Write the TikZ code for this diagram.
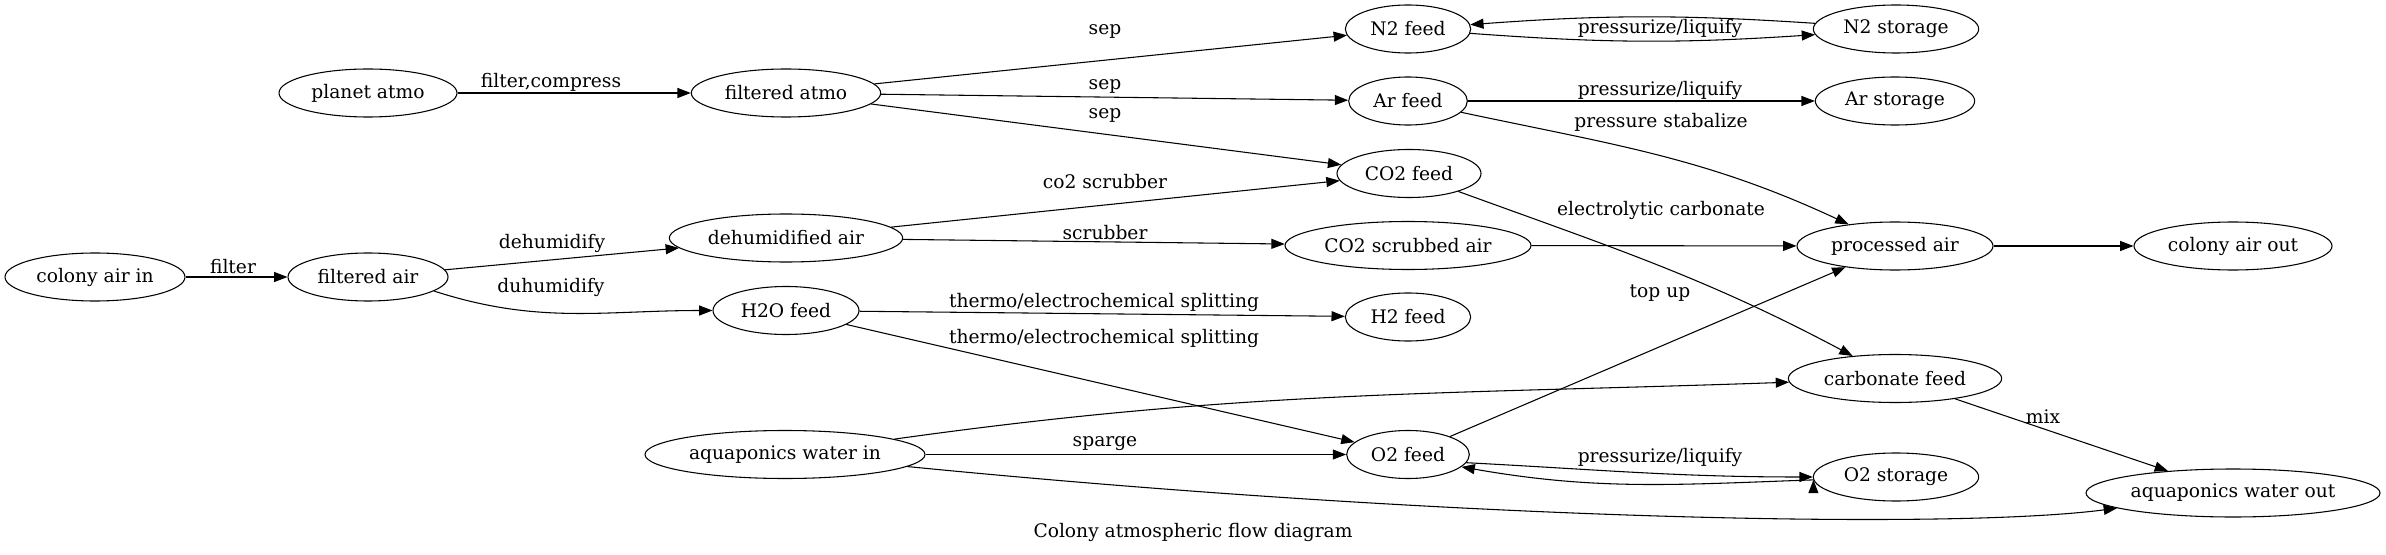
\documentclass[tikz,border=0pt]{standalone}
\usepackage{fontspec}
\setmainfont{DejaVu Serif}
\usetikzlibrary{
    arrows.meta,
    shapes.geometric
}

\begin{document}
\begin{tikzpicture}[x=0.75pt, y=0.75pt,
    font=\fontsize{14pt}{17pt}\selectfont,
    proc/.style={ellipse, draw, line width=0.8pt, inner sep=0pt, minimum height=36pt, minimum width=#1},
    flow/.style={-{Triangle[length=10pt, width=7.5pt]}, line width=0.8pt}]
    \useasboundingbox (0, 0) rectangle (2386, 554);
    \node[proc=135pt] (cin) at (95, 277) {colony air in};
    \node[proc=120pt] (fair) at (368, 277) {filtered air};
    \node[proc=133.5pt] (patmo) at (368, 461) {planet atmo};
    \node[proc=142pt] (fatmo) at (786, 461) {filtered atmo};
    \node[proc=175pt] (dair) at (786, 316) {dehumidified air};
    \node[proc=109.5pt] (h2o) at (786, 243.5) {H2O feed};
    \node[proc=210pt] (aqin) at (785, 99.5) {aquaponics water in};
    \node[proc=94pt] (n2) at (1408, 525) {N2 feed};
    \node[proc=89pt] (ar) at (1408, 453) {Ar feed};
    \node[proc=108pt] (co2) at (1409, 380.5) {CO2 feed};
    \node[proc=184.5pt] (co2s) at (1408, 308.5) {CO2 scrubbed air};
    \node[proc=94pt] (h2) at (1408, 237) {H2 feed};
    \node[proc=92pt] (o2) at (1408, 99.5) {O2 feed};
    \node[proc=124pt] (n2s) at (1896, 525) {N2 storage};
    \node[proc=119.5pt] (ars) at (1895, 453) {Ar storage};
    \node[proc=147pt] (pair) at (1895, 308) {processed air};
    \node[proc=160pt] (carb) at (1895, 175.5) {carbonate feed};
    \node[proc=124pt] (o2s) at (1896, 77) {O2 storage};
    \node[proc=148.5pt] (cout) at (2233, 308) {colony air out};
    \node[proc=220.5pt] (aqout) at (2233, 61) {aquaponics water out};
    \node (lfilter) at (233, 287) {filter};
    \node (lcompress) at (551, 472) {filter,compress};
    \node (ldehum) at (552, 311) {dehumidify};
    \node (lduhum) at (551, 267) {duhumidify};
    \node (lsepn) at (1105, 523) {sep};
    \node (lsepa) at (1105, 468) {sep};
    \node (lsepc) at (1105, 439) {sep};
    \node (lco2scr) at (1105, 372) {co2 scrubber};
    \node (lscr) at (1105, 321) {scrubber};
    \node (lsplith) at (1104, 252) {thermo/electrochemical splitting};
    \node (lsplito) at (1104, 216) {thermo/electrochemical splitting};
    \node (lsparge) at (1105, 110) {sparge};
    \node (lpressn) at (1660, 526) {pressurize/liquify};
    \node (lpressa) at (1660, 464) {pressurize/liquify};
    \node (lstab) at (1661, 432) {pressure stabalize};
    \node (lcarb) at (1661, 344) {electrolytic carbonate};
    \node (ltopup) at (1660, 261) {top up};
    \node (lpresso) at (1660, 97) {pressurize/liquify};
    \node (lmix) at (2043, 137) {mix};
    \node (title) at (1193, 22) {Colony atmospheric flow diagram};
    \draw[flow]
    (cin) edge (fair)
    (patmo) edge (fatmo)
    (fair) edge (dair)
    (fair.-12) edge[out=-18, in=180] (h2o)
    (fatmo) edge (n2)
    (fatmo) edge (ar)
    (fatmo) edge (co2)
    (dair) edge (co2)
    (dair) edge (co2s)
    (h2o) edge (h2)
    (h2o) edge (o2)
    (aqin) edge (o2)
    (aqin) edge[out=8, in=182] (carb)
    (n2) edge[bend right=4] (n2s)
    (n2s) edge[bend right=4] (n2)
    (ar) edge (ars)
    (ar) edge[out=-12, in=155] (pair)
    (co2) edge[out=-20, in=152] (carb)
    (co2s) edge (pair)
    (o2) edge (pair)
    (o2.-8) edge[out=-3, in=180] (o2s.west)
    (o2s.182) edge[out=182, in=-10] (o2.-13)
    (pair) edge (cout)
    (carb) edge (aqout);
    \draw[flow] (aqin) .. controls (1450, 34) and (1950, 24) .. (aqout);
\end{tikzpicture}
\end{document}
